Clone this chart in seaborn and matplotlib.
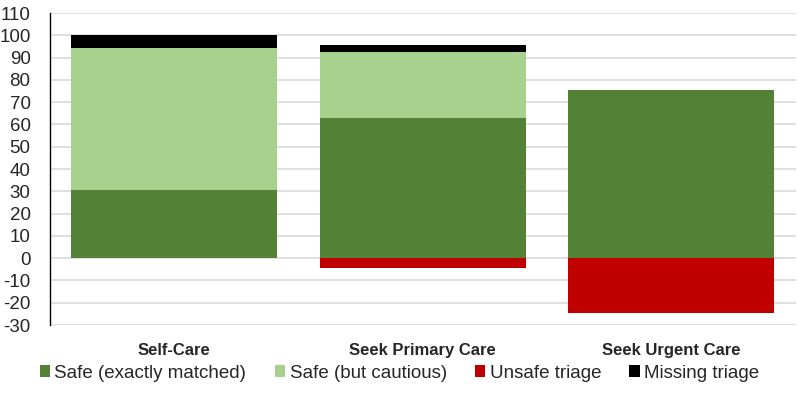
import matplotlib
matplotlib.use("Agg")
import matplotlib.pyplot as plt
import seaborn as sns
import numpy as np
import pandas as pd
from matplotlib.patches import Patch

categories = ["Self-Care", "Seek Primary Care", "Seek Urgent Care"]
safe_exact = [30.5, 63.0, 75.6]
safe_cautious = [64.0, 29.6, 0.0]
unsafe = [0.0, -4.3, -24.4]
missing = [5.5, 3.0, 0.0]

series_names = ["Safe (exactly matched)", "Safe (but cautious)", "Unsafe triage", "Missing triage"]
colors = ["#538135", "#A9D18E", "#C00000", "#000000"]
yticks = list(range(-30, 111, 10))

sns.set_theme(style="white")
plt.rcParams['font.family'] = ['Liberation Sans', 'DejaVu Sans']

fig = plt.figure(figsize=(7.99, 4.04), dpi=100)
ax = fig.add_axes([50/799, 1 - 325/404, 745.5/799, 312/404])

df = pd.DataFrame({"cat": categories, "exact": safe_exact, "caut": safe_cautious,
                   "unsafe": unsafe, "missing": missing})
bottom_caut = np.array(safe_exact)
bottom_miss = np.array(safe_exact) + np.array(safe_cautious)

kw = dict(width=0.83, linewidth=0, saturation=1, ax=ax, zorder=3)
sns.barplot(data=df, x="cat", y="exact", color=colors[0], **kw)
sns.barplot(data=df, x="cat", y="caut", color=colors[1], bottom=bottom_caut, **kw)
sns.barplot(data=df, x="cat", y="unsafe", color=colors[2], **kw)
sns.barplot(data=df, x="cat", y="missing", color=colors[3], bottom=bottom_miss, **kw)

ax.set_ylim(-30, 110)
ax.set_xlim(-0.5, 2.5)
ax.set_yticks(yticks)
ax.set_yticklabels([str(t) for t in yticks], fontsize=13.5)
ax.yaxis.grid(True, color="#D9D9D9", linewidth=1.2, zorder=0)
ax.set_axisbelow(True)
ax.set_xlabel("")
ax.set_ylabel("")
ax.set_xticks(range(3))
ax.set_xticklabels(categories, fontsize=12, fontweight="bold")
ax.tick_params(axis="x", length=0, pad=13)
ax.tick_params(axis="y", length=0, pad=14)
for s in ["top", "right", "bottom"]:
    ax.spines[s].set_visible(False)
ax.spines["left"].set_color("#000000")
ax.spines["left"].set_linewidth(1.0)

handles = [Patch(facecolor=c, edgecolor="none", label=n) for c, n in zip(colors, series_names)]
fig.legend(handles=handles, loc="center", bbox_to_anchor=(0.5, 1 - 373/404), ncol=4,
           frameon=False, fontsize=13.5, handlelength=0.55, handleheight=0.55,
           handletextpad=0.25, columnspacing=1.5)

fig.savefig("out.png", dpi=100)
